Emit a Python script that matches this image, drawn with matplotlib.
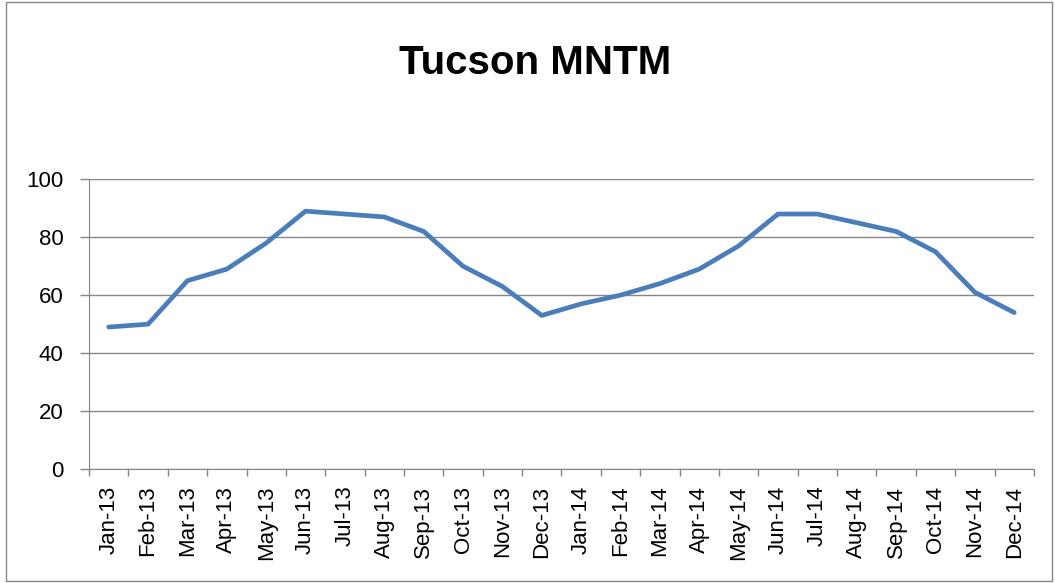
import matplotlib
matplotlib.use("Agg")
import matplotlib.pyplot as plt
from matplotlib.patches import Rectangle
from matplotlib.ticker import FixedLocator, NullFormatter

months = ["Jan-13", "Feb-13", "Mar-13", "Apr-13", "May-13", "Jun-13",
          "Jul-13", "Aug-13", "Sep-13", "Oct-13", "Nov-13", "Dec-13",
          "Jan-14", "Feb-14", "Mar-14", "Apr-14", "May-14", "Jun-14",
          "Jul-14", "Aug-14", "Sep-14", "Oct-14", "Nov-14", "Dec-14"]
mntm = [49, 50, 65, 69, 78, 89, 88, 87, 82, 70, 63, 53,
        57, 60, 64, 69, 77, 88, 88, 85, 82, 75, 61, 54]
yticks = [0, 20, 40, 60, 80, 100]

plt.rcParams["font.family"] = ["Liberation Sans", "DejaVu Sans"]

fig = plt.figure(figsize=(10.55, 5.83), dpi=100)
ax = fig.add_axes([0.0844, 0.1955, 0.8956, 0.497])

# chart border
fig.patches.append(Rectangle((0.006, 0.004), 0.991, 0.993, transform=fig.transFigure,
                             fill=False, edgecolor="#868686", linewidth=1))

x = list(range(len(months)))
ax.plot(x, mntm, color="#4A7EBB", linewidth=3.4, solid_capstyle="round", zorder=3)

ax.set_xlim(-0.5, len(months) - 0.5)
ax.set_ylim(0, 100)
ax.set_yticks(yticks)
ax.set_xticks(x)
ax.set_xticklabels(months, rotation=90, fontsize=16)
ax.tick_params(axis="x", which="major", length=0, pad=12)
ax.xaxis.set_minor_locator(FixedLocator([i - 0.5 for i in range(len(months) + 1)]))
ax.xaxis.set_minor_formatter(NullFormatter())
ax.tick_params(axis="x", which="minor", length=5, color="#868686", width=1)
ax.tick_params(axis="y", length=6.5, color="#868686", width=1, labelsize=16, pad=12)

ax.grid(axis="y", color="#868686", linewidth=1)
ax.set_axisbelow(True)
for side in ["top", "right"]:
    ax.spines[side].set_visible(False)
for side in ["left", "bottom"]:
    ax.spines[side].set_color("#868686")

fig.text(0.507, 0.892, "Tucson MNTM", ha="center", va="center",
         fontsize=29, fontweight="bold")

fig.savefig("out.png", dpi=100)
